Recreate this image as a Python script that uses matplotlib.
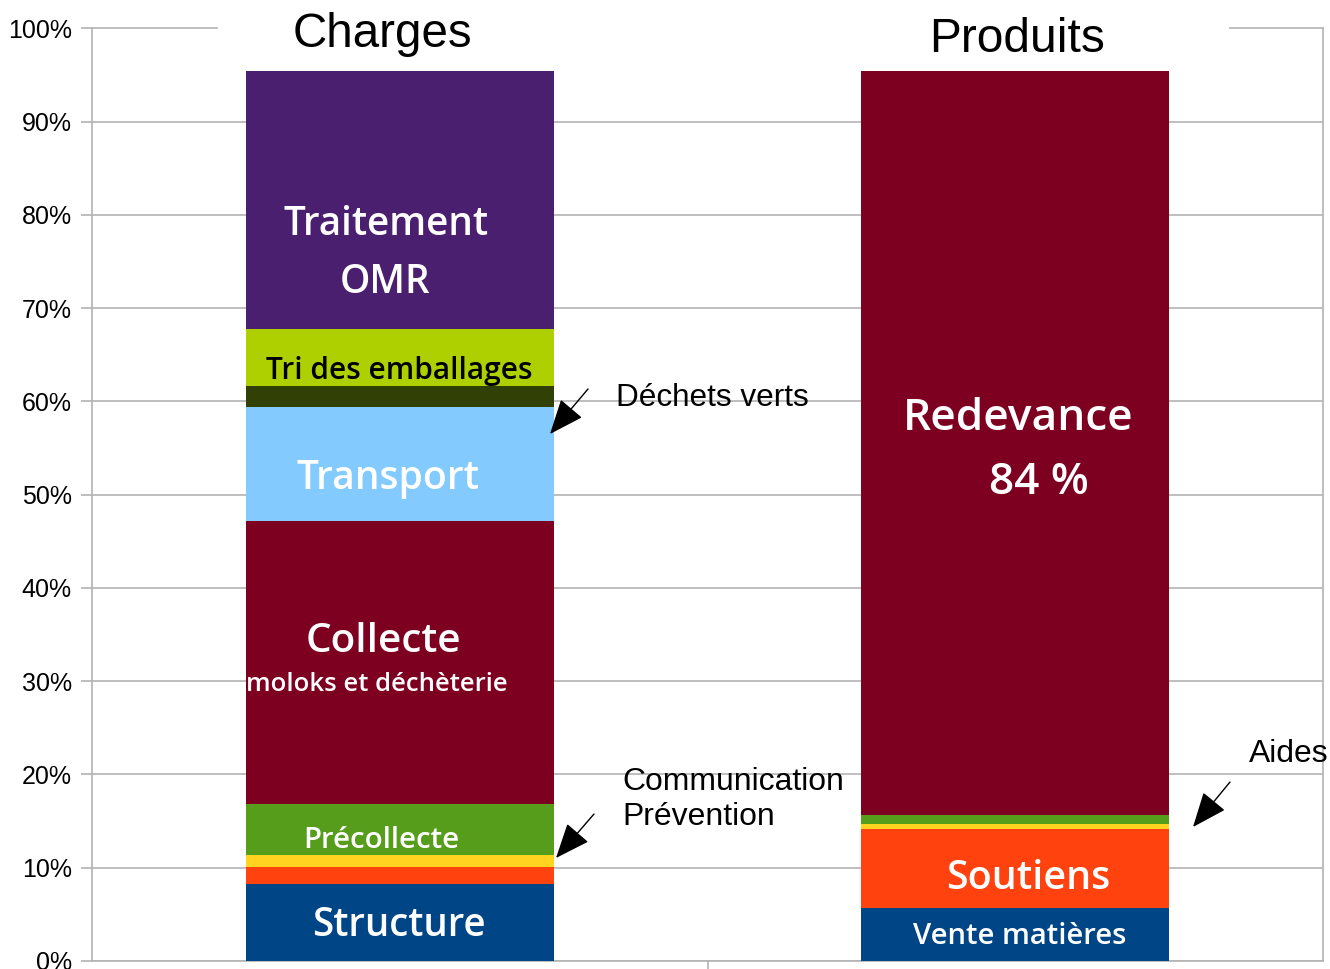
import matplotlib
matplotlib.use('Agg')
import matplotlib.pyplot as plt
import numpy as np

# ---------------- data ----------------
categories = ['Charges', 'Produits']
series = ['Structure / Vente matières', 'Communication / Soutiens', 'Prévention / Aides',
          'Précollecte / Aides', 'Collecte / Redevance', 'Transport', 'Déchets verts',
          'Tri des emballages', 'Traitement OMR']
charges = [8.26, 1.82, 1.29, 5.47, 30.3, 12.3, 2.25, 6.1, 27.6]
produits = [5.7, 8.4, 0.64, 0.86, 79.8, 0, 0, 0, 0]
yticks = list(range(0, 101, 10))
ytick_labels = [f'{v}%' for v in yticks]

# ---------------- style ----------------
colors = ['#004586', '#ff420e', '#ffd320', '#579d1c', '#7e0021',
          '#83caff', '#314004', '#aecf00', '#4b1f6f']
GRID = '#b3b3b3'
SANS = 'Liberation Sans'
BARFONT = 'Open Sans'

W, H = 1330, 969
fig = plt.figure(figsize=(W / 100, H / 100), dpi=100)
L, R, T, B = 92, 1323, 28.3, 961
ax = fig.add_axes([L / W, 1 - B / H, (R - L) / W, (B - T) / H])
ax.set_xlim(-0.5, 1.5)
ax.set_ylim(0, 100)

x = np.arange(len(categories))
bottom = np.zeros(len(categories))
for i, name in enumerate(series):
    vals = np.array([charges[i], produits[i]])
    ax.bar(x, vals, 0.5, bottom=bottom, color=colors[i], zorder=3, linewidth=0, label=name)
    bottom += vals

# gridlines
for v in yticks[:-1]:
    ax.axhline(v, color=GRID, lw=1.2, zorder=1)
ax.axhline(100, xmin=0, xmax=(217 - L) / (R - L), color=GRID, lw=1.2, zorder=1, clip_on=False)
ax.axhline(100, xmin=(1230 - L) / (R - L), xmax=1, color=GRID, lw=1.2, zorder=1, clip_on=False)

for s in ['left', 'right', 'bottom']:
    ax.spines[s].set_color(GRID)
    ax.spines[s].set_linewidth(1.2)
ax.spines['top'].set_visible(False)

ax.set_yticks(yticks, ytick_labels)
ax.tick_params(axis='y', length=8, width=1.2, color=GRID, pad=6.5, labelsize=18)
for lab in ax.get_yticklabels():
    lab.set_fontfamily(SANS)
ax.set_xticks([0.5], [''])
ax.tick_params(axis='x', length=6, width=1.2, color=GRID)


def px(xp, yp):
    return ((xp - L) / (R - L) * 2 - 0.5, (B - yp) / (B - T) * 100)


fig.canvas.draw()
rend = fig.canvas.get_renderer()


def fit_text(s, xc, yb, target_w=None, size=None, ha='center', **kw):
    t = ax.text(*px(xc, yb), s, ha=ha, va='baseline', fontsize=20, zorder=5, **kw)
    if size is None:
        w = t.get_window_extent(rend).width
        size = 20 * target_w / w
    t.set_fontsize(size)
    return size


bk = dict(family=BARFONT, weight='semibold', color='white')
s1 = fit_text('Traitement', 385.5, 235, 205, **bk)
fit_text('OMR', 385.5, 293, size=s1, **bk)
fit_text('Tri des emballages', 399.5, 379, 265, family=BARFONT, weight='semibold', color='black')
fit_text('Transport', 388, 489, 182, **bk)
fit_text('Collecte', 383.5, 652, 155, **bk)
fit_text('moloks et déchèterie', 376.5, 691, 261, **bk)
fit_text('Précollecte', 381, 848, 156, **bk)
fit_text('Structure', 399, 936, 174, **bk)
s2 = fit_text('Redevance', 1018, 430, 230, **bk)
fit_text('84 %', 1039, 494, size=s2, **bk)
fit_text('Soutiens', 1028, 889, 164, **bk)
fit_text('Vente matières', 1019.5, 944, 213, **bk)

# titles
fit_text('Charges', 382.5, 47, 179, family=SANS, color='black')
fit_text('Produits', 1017.5, 52, 175, family=SANS, color='black')

# annotations
fit_text('Déchets verts', 616, 406, 192, ha='left', family=SANS, color='black')
s3 = fit_text('Communication', 622, 790, 221, ha='left', family=SANS, color='black')
fit_text('Prévention', 622, 825, size=s3, ha='left', family=SANS, color='black')
fit_text('Aides', 1249, 762, size=s3, ha='left', family=SANS, color='black')

arrow = dict(arrowstyle='-|>,head_length=2.2,head_width=0.9', mutation_scale=10,
             lw=1, color='black', shrinkA=0, shrinkB=0)
for tail, tip in [((588, 389), (550, 434)), ((594, 814), (556, 858)), ((1230, 782), (1193, 827))]:
    ax.annotate('', xy=px(*tip), xytext=px(*tail), arrowprops=arrow, zorder=6,
                annotation_clip=False)

fig.savefig('out.png', dpi=100)
